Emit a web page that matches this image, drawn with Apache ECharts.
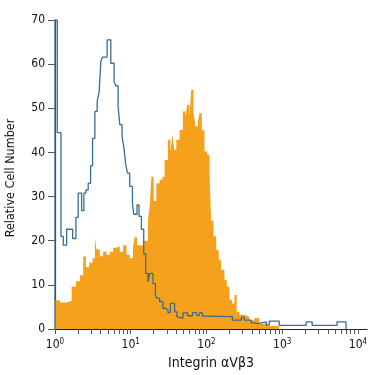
<!DOCTYPE html>
<html>
<head>
<meta charset="utf-8">
<script src="https://cdn.jsdelivr.net/npm/echarts@6/dist/echarts.min.js"></script>
<style>
  html, body { margin: 0; padding: 0; background: #fff; }
  #chart { width: 375px; height: 375px; }
</style>
</head>
<body>
<div id="chart"></div>
<script>
// stained sample (filled histogram): bin left edges (intensity) and counts
var goldEdges = [1, 1.164, 1.425, 1.659, 1.889, 2.133, 2.357, 2.558, 2.827, 3.134,
	3.36, 3.538, 3.909, 4.32, 4.789, 5.292, 5.85, 6.483, 7.166, 7.92,
	8.779, 9.701, 10.72, 11.29, 12.1, 14.52, 16.89, 17.78, 18.73, 20.08,
	21.79, 24.08, 26.13, 28.03, 30.96, 33.3, 35.38, 37.58, 39.94, 44.13,
	48.78, 52.46, 55.74, 59.76, 62.91, 67.45, 71.67, 76.83, 80.9, 86.74,
	94.12, 102.1, 109.5, 115.3, 123.6, 134.2, 145.2, 156.1, 172.6, 185,
	200.7, 217.9, 233.6, 250.4, 271.8, 316.2, 368, 428.2, 498.3, 634.8, 913];
var goldCounts = [6.5, 6.0, 6.4, 9.6, 10.8, 12.2, 16.4, 14, 15, 16,
	20.6, 18, 16.5, 17.5, 16.8, 17.5, 18.4, 18.7, 17.5, 19,
	16.8, 16, 18.7, 20.8, 19, 20, 24.7, 28, 34.5, 29,
	33, 33.8, 34.5, 38.3, 42.9, 40.2, 44, 40.6, 42.9, 45.1,
	49.3, 48.1, 50.8, 48, 54.2, 49, 45.9, 47, 48.9, 45,
	40.2, 39.5, 35.4, 24.5, 21, 17.9, 15.6, 13.4, 11.1, 9.6,
	6.6, 5.8, 7.7, 3.9, 3.2, 2.8, 2, 2.5, 1.2, 0.7, 0];

// isotype control (open histogram)
var blueEdges = [1, 1, 1.072, 1.199, 1.286, 1.425, 1.71, 1.889, 2.026, 2.245,
	2.407, 2.558, 2.743, 2.949, 3.134, 3.36, 3.602, 3.827, 4.03, 4.243,
	4.878, 5.456, 6.029, 6.347, 6.807, 7.166, 7.683, 8.09, 8.596, 9.049,
	9.701, 10.53, 10.95, 12.1, 12.86, 13.83, 14.83, 15.76, 16.89, 17.78,
	19.66, 21.13, 22.19, 24.08, 26.61, 28.62, 30.96, 33.3, 37.93, 40.67,
	43.2, 48.78, 51.36, 56.23, 65.44, 73.88, 80.9, 88.62, 100, 219.9,
	288.7, 316.2, 390.9, 428.2, 468.8, 616, 674.6, 913, 2069, 2481,
	5292, 6953];
var blueCounts = [0, 70, 44.5, 21, 19, 22.6, 20.5, 25.3, 30.8, 26.8,
	30.8, 31.5, 33, 37, 43.2, 49.3, 51.5, 53.8, 60.6, 61.6,
	65.5, 60.2, 56, 55.1, 50.4, 46.3, 43.6, 41.3, 37.2, 35.3,
	32.3, 28.5, 26, 28.1, 25.5, 22.6, 17, 12.6, 10.7, 12.6,
	10.3, 7.7, 7, 6.2, 4.7, 4.3, 3.7, 5.8, 3.9, 2.8,
	2.4, 3.6, 3.7, 3.0, 3.7, 3.1, 3.7, 2.9, 2.8, 2.0,
	2.6, 2.0, 1.4, 1.2, 1.6, 0.9, 1.8, 0.8, 1.6, 0.8,
	1.6, 0];

var xLabelValues = [1, 10, 100, 1000, 10000];
var yMax = 70;

function pairs(xs, ys) {
	return xs.map(function (x, i) { return [x, ys[i]]; });
}

// log ticks 1..9 in every decade
var xTickValues = [];
for (var d = 1; d < 10000; d *= 10) {
	for (var k = 1; k < 10; k++) xTickValues.push(k * d);
}
xTickValues.push(10000);

var font = '"Liberation Sans Narrow", "DejaVu Sans Condensed", sans-serif';
var myChart = echarts.init(document.getElementById('chart'));

var option = {
	animation: false,
	grid: { left: 55, right: 8, top: 20, bottom: 46, outerBoundsMode: 'none' },
	xAxis: {
		type: 'log',
		logBase: 10,
		min: 1,
		max: 13150,
		name: 'Integrin \u03b1V\u03b23',
		nameLocation: 'middle',
		nameGap: 26,
		nameTextStyle: { fontFamily: font, fontSize: 14, color: '#111' },
		axisLine: { lineStyle: { color: '#222', width: 1.2 } },
		axisTick: { customValues: xTickValues, length: 5, lineStyle: { color: '#555' } },
		splitLine: { show: false },
		axisLabel: {
			customValues: xLabelValues,
			margin: 9,
			formatter: function (v) {
				return '{b|10}{s|' + Math.round(Math.log10(v)) + '}';
			},
			rich: {
				b: { fontFamily: font, fontSize: 12, color: '#111' },
				s: { fontFamily: font, fontSize: 8, color: '#111', padding: [0, 0, 6, 0] }
			}
		}
	},
	yAxis: {
		type: 'value',
		min: 0,
		max: yMax,
		interval: 10,
		name: 'Relative Cell Number',
		nameLocation: 'middle',
		nameGap: 38,
		nameTextStyle: { fontFamily: font, fontSize: 12.5, color: '#111', padding: [0, 7, 0, 0] },
		axisLine: { show: true, lineStyle: { color: '#222', width: 1.2 } },
		axisTick: { show: true, length: 7, lineStyle: { color: '#555' } },
		splitLine: { show: false },
		axisLabel: { fontFamily: font, fontSize: 12, color: '#111', margin: 10 }
	},
	series: [
		{
			name: 'sample',
			type: 'line',
			step: 'end',
			symbol: 'none',
			data: pairs(goldEdges, goldCounts),
			lineStyle: { width: 0 },
			areaStyle: { color: '#f6a11c', opacity: 1 },
			z: 2
		},
		{
			name: 'isotype',
			type: 'line',
			step: 'end',
			symbol: 'none',
			data: pairs(blueEdges, blueCounts),
			lineStyle: { color: '#3a6d92', width: 1.3 },
			z: 3
		}
	]
};
myChart.setOption(option);
</script>
</body>
</html>
